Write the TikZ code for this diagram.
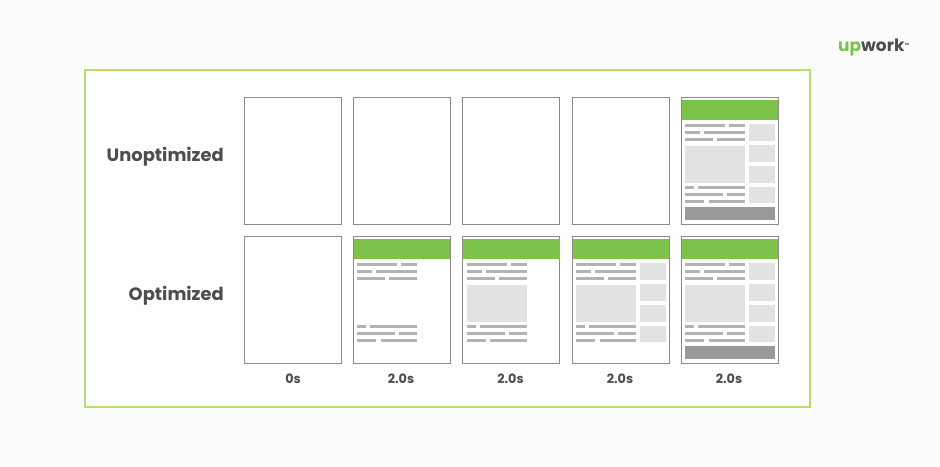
\documentclass[tikz,border=0pt]{standalone}
\usepackage{fontspec}
\setmainfont{Poppins}
\definecolor{pagebg}{HTML}{FBFDFC}
\definecolor{framegreen}{HTML}{BBD96F}
\definecolor{bandgreen}{HTML}{7DC24B}
\definecolor{wire}{HTML}{8A8A8A}
\definecolor{barc}{HTML}{B3B3B3}
\definecolor{blockc}{HTML}{E1E3E2}
\definecolor{footc}{HTML}{999999}
\definecolor{inkc}{HTML}{4D4D4D}
\tikzset{
  x=1pt,y=-1pt,
  sheet/.style={draw=wire,line width=0.8pt,fill=white,minimum width=97pt,minimum height=127.5pt,inner sep=0pt,outer sep=0pt,anchor=north west},
  rowlabel/.style={font=\fontsize{17.9}{20}\selectfont\bfseries,text=inkc,anchor=east,inner sep=0pt},
  timelabel/.style={font=\fontsize{12.8}{14}\selectfont\bfseries,text=inkc,anchor=center,inner sep=0pt},
  bar/.style={fill=barc},
  block/.style={fill=blockc},
  foot/.style={fill=footc},
  band/.style={fill=bandgreen}
}
% all parts are drawn from the top-left corner of a sheet
\newcommand{\pband}[2]{\fill[band] (#1+0.5,#2+3) rectangle (#1+97,#2+23.3);}
\newcommand{\ptop}[2]{%
  \fill[bar] (#1+4,#2+27) rectangle (#1+44,#2+30.4);
  \fill[bar] (#1+48,#2+27) rectangle (#1+64,#2+30.4);
  \fill[bar] (#1+4,#2+34) rectangle (#1+19,#2+37.4);
  \fill[bar] (#1+23,#2+34) rectangle (#1+64,#2+37.4);
  \fill[bar] (#1+4,#2+41) rectangle (#1+32,#2+44.4);
  \fill[bar] (#1+36,#2+41) rectangle (#1+64,#2+44.4);}
\newcommand{\pbot}[2]{%
  \fill[bar] (#1+4,#2+88.7) rectangle (#1+13,#2+92.2);
  \fill[bar] (#1+17.3,#2+88.7) rectangle (#1+64,#2+92.2);
  \fill[bar] (#1+4,#2+96) rectangle (#1+42,#2+99.4);
  \fill[bar] (#1+46,#2+96) rectangle (#1+64,#2+99.4);
  \fill[bar] (#1+4,#2+103) rectangle (#1+23.3,#2+106.4);
  \fill[bar] (#1+27.7,#2+103) rectangle (#1+64,#2+106.4);}
\newcommand{\pmain}[2]{\fill[block] (#1+4,#2+48.6) rectangle (#1+64,#2+85.6);}
\newcommand{\pside}[2]{%
  \fill[block] (#1+67.5,#2+27) rectangle (#1+94,#2+44);
  \fill[block] (#1+67.5,#2+48.3) rectangle (#1+94,#2+65);
  \fill[block] (#1+67.5,#2+69) rectangle (#1+94,#2+85.6);
  \fill[block] (#1+67.5,#2+90) rectangle (#1+94,#2+106.3);}
\newcommand{\pfoot}[2]{\fill[foot] (#1+4,#2+110) rectangle (#1+94,#2+123);}
\begin{document}
\begin{tikzpicture}
\useasboundingbox (0,0) rectangle (940,466);
\fill[pagebg] (0,0) rectangle (940,466);
\node[draw=framegreen,line width=2pt,fill=white,minimum width=725pt,minimum height=337pt,inner sep=0pt,outer sep=0pt,anchor=north west] (panel) at (84.5,69.5) {};
% top row
\node[sheet] (u1) at (244,97) {};
\node[sheet] (u2) at (353,97) {};
\node[sheet] (u3) at (462.5,97) {};
\node[sheet] (u4) at (572,97) {};
\node[sheet] (u5) at (681,97) {};
\pband{681}{97}\ptop{681}{97}\pmain{681}{97}\pside{681}{97}\pbot{681}{97}\pfoot{681}{97}
% bottom row
\node[sheet] (o1) at (244,236) {};
\node[sheet] (o2) at (353,236) {};
\node[sheet] (o3) at (462.5,236) {};
\node[sheet] (o4) at (572,236) {};
\node[sheet] (o5) at (681,236) {};
\pband{353}{236}\ptop{353}{236}\pbot{353}{236}
\pband{462.5}{236}\ptop{462.5}{236}\pmain{462.5}{236}\pbot{462.5}{236}
\pband{572}{236}\ptop{572}{236}\pmain{572}{236}\pside{572}{236}\pbot{572}{236}
\pband{681}{236}\ptop{681}{236}\pmain{681}{236}\pside{681}{236}\pbot{681}{236}\pfoot{681}{236}
% labels
\node[rowlabel] (lu) at (224,156.5) {Unoptimized};
\node[rowlabel] (lo) at (224,296) {Optimized};
\node[timelabel] (t1) at (293,379) {0s};
\node[timelabel] (t2) at (401,379) {2.0s};
\node[timelabel] (t3) at (510.5,379) {2.0s};
\node[timelabel] (t4) at (620,379) {2.0s};
\node[timelabel] (t5) at (729,379) {2.0s};
% logo
\node[anchor=base west,inner sep=0pt,font=\fontsize{17}{18}\selectfont\bfseries] (logo) at (838,51) {\textcolor{bandgreen}{up}\textcolor{inkc}{work}\raisebox{6pt}{\textcolor{inkc}{\fontsize{3}{3}\selectfont TM}}};
\end{tikzpicture}
\end{document}
